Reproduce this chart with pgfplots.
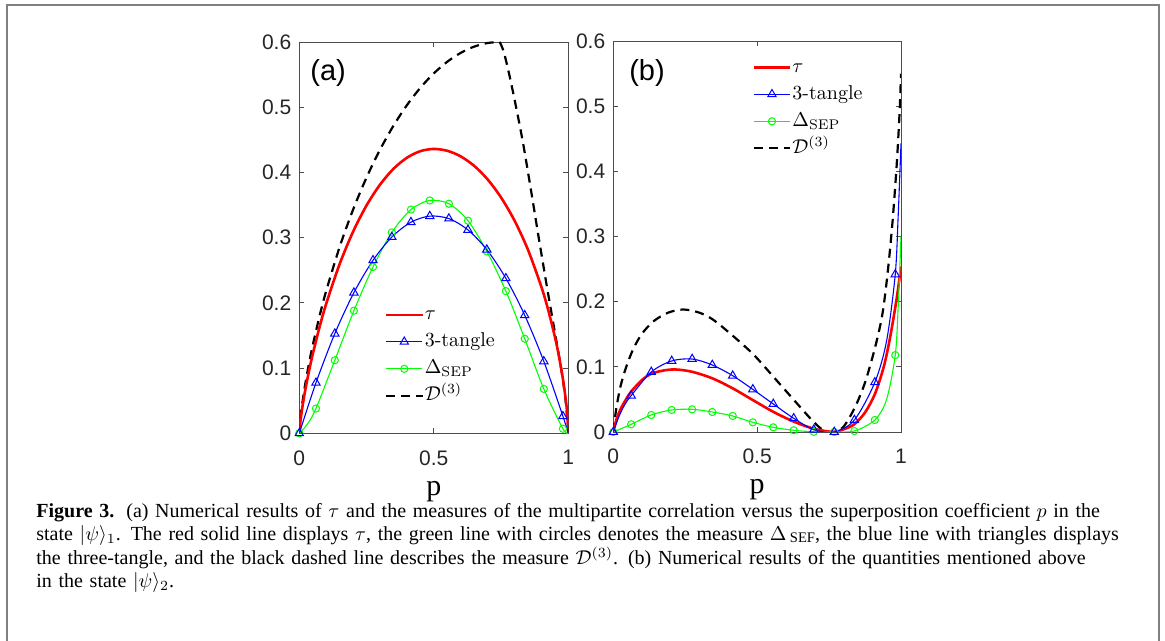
\documentclass[border=0pt]{standalone}
\usepackage{fontspec}
\usepackage{pgfplots}
\pgfplotsset{compat=1.18}
\newfontfamily\arialf{Liberation Sans}
\newfontfamily\timesf{Liberation Serif}
\definecolor{mred}{rgb}{1,0,0}
\definecolor{mblue}{rgb}{0,0,1}
\definecolor{mgreen}{rgb}{0,1,0}
\definecolor{framegray}{rgb}{0.5,0.5,0.5}

\pgfplotsset{
  panel/.style={
    scale only axis, anchor=south west,
    xmin=0, xmax=1, ymin=0, ymax=0.6,
    xtick={0,0.5,1}, xticklabels={0,0.5,1},
    ytick={0,0.1,0.2,0.3,0.4,0.5,0.6},
    yticklabels={0,0.1,0.2,0.3,0.4,0.5,0.6},
    xtick pos=both, ytick pos=both, ticklabel pos=left,
    tick align=inside, major tick length=2.5pt,
    axis line style={black!70, line width=0.45pt},
    tick style={black!70, line width=0.45pt},
    ticklabel style={font=\arialf\fontsize{10.5}{12}\selectfont, text=black!85},
    xticklabel style={yshift=-5pt},
    yticklabel style={xshift=-0.5pt},
    xlabel={\timesf p},
    xlabel style={font=\fontsize{15}{17}\selectfont, yshift=-1pt},
    legend cell align=left,
    legend style={draw=none, fill=none, anchor=north west,
      font=\fontsize{10}{12}\selectfont, inner sep=0pt, row sep=1.3pt,
      nodes={inner sep=0.6pt, text height=8pt, text depth=3pt}},
    legend image code/.code={
      \draw[mark repeat=2, mark phase=2, #1]
        plot coordinates {(0pt,0pt) (9pt,0pt) (18pt,0pt)};},
    redline/.style={mred, line width=1.3pt, smooth},
    blueline/.style={mblue, line width=0.55pt, smooth},
    greenline/.style={mgreen, line width=0.55pt, smooth},
    blackline/.style={black, line width=1.1pt, dash pattern=on 4.5pt off 3pt, smooth},
    bluemark/.style={mblue, only marks, mark=triangle, mark size=2.4pt, mark options={line width=0.5pt}},
    greenmark/.style={mgreen, only marks, mark=o, mark size=1.8pt, mark options={line width=0.5pt}},
  }
}

\begin{document}
\begin{tikzpicture}
\path[use as bounding box] (0,0) rectangle (582.5pt,320.5pt);
\draw[framegray, line width=0.85pt] (3.5pt,0) -- (3.5pt,318pt) -- (579.65pt,318pt) -- (579.65pt,0);

% ---------- panel (a)
\begin{axis}[panel, at={(149.65pt,103.85pt)}, width=134.5pt, height=195.65pt,
  legend style={at={(rel axis cs:0.317,0.335)}}]
\addlegendimage{redline}
\addlegendentry{$\tau$}
\addlegendimage{mblue, line width=0.55pt, mark=triangle, mark size=2.4pt, mark options={line width=0.5pt}}
\addlegendentry{3-tangle}
\addlegendimage{mgreen, line width=0.55pt, mark=o, mark size=1.8pt, mark options={line width=0.5pt}}
\addlegendentry{$\Delta_{\mathrm{SEP}}$}
\addlegendimage{blackline}
\addlegendentry{$\mathcal{D}^{(3)}$}

% D^(3): rising branch and falling branch (cusp at the top)
\addplot[blackline, forget plot] coordinates {
 (0,0) (0.005,0.0257) (0.01,0.0425) (0.02,0.0702) (0.035,0.1049) (0.05,0.1351)
 (0.075,0.1793) (0.1,0.2184) (0.15,0.2858) (0.2,0.3430) (0.25,0.3922)
 (0.3,0.4348) (0.35,0.4716) (0.4,0.5031) (0.45,0.5298) (0.5,0.5519)
 (0.55,0.5697) (0.6,0.5833) (0.65,0.5929) (0.7,0.5984) (0.745,0.6)};
\addplot[blackline, forget plot] coordinates {
 (0.745,0.6) (0.76,0.585) (0.78,0.551) (0.80,0.512) (0.83,0.449) (0.86,0.376)
 (0.89,0.300) (0.92,0.226) (0.95,0.155) (0.975,0.095) (0.99,0.050) (1,0)};
\addplot[redline, forget plot] coordinates {
 (0,0) (0.005,0.0214) (0.01,0.0363) (0.02,0.0614) (0.035,0.0934) (0.05,0.1214)
 (0.075,0.1625) (0.1,0.1986) (0.15,0.2596) (0.2,0.3092) (0.25,0.3494)
 (0.3,0.3812) (0.35,0.4055) (0.4,0.4225) (0.45,0.4326) (0.5,0.436)
 (0.55,0.4332) (0.6,0.4246) (0.65,0.4101) (0.7,0.3893) (0.75,0.3616)
 (0.8,0.3262) (0.85,0.2815) (0.9,0.2244) (0.925,0.1895) (0.95,0.1481)
 (0.965,0.1187) (0.98,0.0833) (0.99,0.0535) (0.995,0.0342) (1,0)};
\addplot[greenline, forget plot] coordinates {
 (0,0) (0.03,0.014) (0.062,0.038) (0.132,0.112) (0.203,0.188) (0.274,0.255)
 (0.344,0.308) (0.415,0.343) (0.485,0.357) (0.556,0.352) (0.627,0.326)
 (0.697,0.279) (0.768,0.218) (0.838,0.145) (0.909,0.068) (0.98,0.007) (1,0)};
\addplot[greenmark, forget plot] coordinates {
 (0,0) (0.062,0.038) (0.132,0.112) (0.203,0.188) (0.274,0.255)
 (0.344,0.308) (0.415,0.343) (0.485,0.357) (0.556,0.352) (0.627,0.326)
 (0.697,0.279) (0.768,0.218) (0.838,0.145) (0.909,0.068) (0.98,0.007)};
\addplot[blueline, forget plot] coordinates {
 (0,0) (0.062,0.0775) (0.132,0.1528) (0.203,0.2157) (0.274,0.2652)
 (0.344,0.3009) (0.415,0.3237) (0.485,0.3330) (0.556,0.3292) (0.627,0.3118)
 (0.697,0.2816) (0.768,0.2376) (0.838,0.1810) (0.909,0.1103) (0.98,0.0261) (1,0)};
\addplot[bluemark, forget plot] coordinates {
 (0,0) (0.062,0.0775) (0.132,0.1528) (0.203,0.2157) (0.274,0.2652)
 (0.344,0.3009) (0.415,0.3237) (0.485,0.3330) (0.556,0.3292) (0.627,0.3118)
 (0.697,0.2816) (0.768,0.2376) (0.838,0.1810) (0.909,0.1103) (0.98,0.0261)};
\node[font=\arialf\fontsize{14.5}{16}\selectfont] at (rel axis cs:0.107,0.92) {(a)};
\end{axis}

% ---------- panel (b)
\begin{axis}[panel, at={(306.65pt,104.5pt)}, width=143.85pt, height=195.5pt,
  legend style={at={(rel axis cs:0.483,0.965)}}]
\addlegendimage{redline}
\addlegendentry{$\tau$}
\addlegendimage{mblue, line width=0.55pt, mark=triangle, mark size=2.4pt, mark options={line width=0.5pt}}
\addlegendentry{3-tangle}
\addlegendimage{mgreen, line width=0.55pt, mark=o, mark size=1.8pt, mark options={line width=0.5pt}}
\addlegendentry{$\Delta_{\mathrm{SEP}}$}
\addlegendimage{blackline}
\addlegendentry{$\mathcal{D}^{(3)}$}

\addplot[blackline, forget plot] coordinates {
 (0,0) (0.01,0.035) (0.025,0.07) (0.045,0.10) (0.07,0.128) (0.1,0.151)
 (0.14,0.17) (0.19,0.183) (0.243,0.188) (0.3,0.183) (0.348,0.172)
 (0.417,0.147) (0.487,0.119) (0.556,0.085) (0.626,0.050) (0.695,0.016)
 (0.73,0.003) (0.765,0) (0.8,0.008) (0.84,0.038) (0.875,0.076) (0.91,0.13)
 (0.935,0.18) (0.953,0.242) (0.97,0.32) (0.985,0.41) (0.995,0.49) (1,0.55)};
\addplot[redline, forget plot] coordinates {
 (0,0) (0.01,0.018) (0.023,0.033) (0.04,0.047) (0.062,0.062) (0.1,0.08)
 (0.13,0.089) (0.17,0.094) (0.214,0.096) (0.272,0.0926) (0.344,0.0824)
 (0.415,0.067) (0.485,0.049) (0.556,0.031) (0.627,0.016) (0.697,0.005)
 (0.765,0) (0.8,0.004) (0.838,0.012) (0.875,0.03) (0.909,0.058) (0.94,0.1)
 (0.962,0.145) (0.985,0.205) (1,0.254)};
\addplot[greenline, forget plot] coordinates {
 (0,0) (0.062,0.0118) (0.132,0.0261) (0.203,0.0338) (0.274,0.0348)
 (0.344,0.0307) (0.415,0.0246) (0.485,0.0148) (0.556,0.0072) (0.627,0.0026)
 (0.697,0.0003) (0.768,0) (0.838,0.0015) (0.909,0.0184) (0.95,0.05)
 (0.98,0.118) (0.99,0.19) (1,0.30)};
\addplot[greenmark, forget plot] coordinates {
 (0,0) (0.062,0.0118) (0.132,0.0261) (0.203,0.0338) (0.274,0.0348)
 (0.344,0.0307) (0.415,0.0246) (0.485,0.0148) (0.556,0.0072) (0.627,0.0026)
 (0.697,0.0003) (0.768,0) (0.838,0.0015) (0.909,0.0184) (0.98,0.118)};
\addplot[blueline, forget plot] coordinates {
 (0,0) (0.02,0.024) (0.04,0.042) (0.062,0.0558) (0.132,0.0921) (0.203,0.109)
 (0.274,0.112) (0.344,0.1028) (0.415,0.0864) (0.485,0.0654) (0.556,0.043)
 (0.627,0.021) (0.697,0.0035) (0.768,0) (0.838,0.0184) (0.909,0.0762)
 (0.95,0.14) (0.98,0.2419) (0.99,0.33) (1,0.443)};
\addplot[bluemark, forget plot] coordinates {
 (0,0) (0.062,0.0558) (0.132,0.0921) (0.203,0.109) (0.274,0.112)
 (0.344,0.1028) (0.415,0.0864) (0.485,0.0654) (0.556,0.043) (0.627,0.021)
 (0.697,0.0035) (0.768,0) (0.838,0.0184) (0.909,0.0762) (0.98,0.2419)};
\node[font=\arialf\fontsize{14.5}{16}\selectfont] at (rel axis cs:0.117,0.918) {(b)};
\end{axis}

% ---------- caption
\node[anchor=north west, inner sep=0pt, text width=560pt, align=left,
      font=\timesf\fontsize{10}{11.35}\selectfont] at (18pt,69pt) {%
\textbf{Figure 3.}\hspace{0.6em}(a) Numerical results of $\tau$ and the measures of the multipartite correlation versus the superposition coefficient $p$ in the\\
state $|\psi\rangle_1$. The red solid line displays $\tau$, the green line with circles denotes the measure $\Delta$\,\raisebox{-1.3pt}{\fontsize{7.3}{8}\selectfont SEF}, the blue line with triangles displays\\
the three-tangle, and the black dashed line describes the measure $\mathcal{D}^{(3)}$. (b) Numerical results of the quantities mentioned above\\
in the state $|\psi\rangle_2$.};
\end{tikzpicture}
\end{document}
